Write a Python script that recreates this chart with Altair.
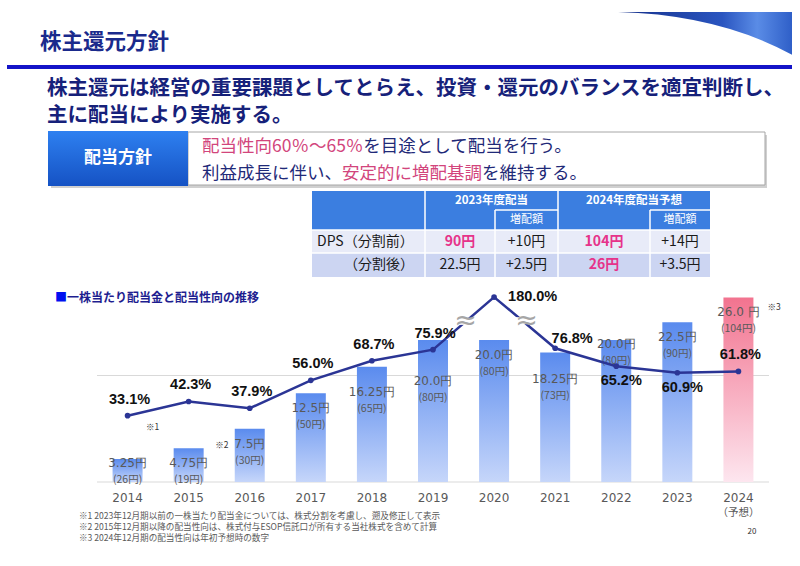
import altair as alt
import pandas as pd

# ---------------- data ----------------
years = ["2014", "2015", "2016", "2017", "2018", "2019", "2020", "2021", "2022", "2023", "2024"]
dps_split = [3.25, 4.75, 7.5, 12.5, 16.25, 20.0, 20.0, 18.25, 20.0, 22.5, 26.0]
dps_presplit = [26, 19, 30, 50, 65, 80, 80, 73, 80, 90, 104]
payout_ratio = [33.1, 42.3, 37.9, 56.0, 68.7, 75.9, 180.0, 76.8, 65.2, 60.9, 61.8]
forecast_year = "2024"

table_headers = ["2023年度配当", "2024年度配当予想"]
table_sub = "増配額"
row_labels = ["DPS（分割前）", "（分割後）"]
row_before = ["90円", "+10円", "104円", "+14円"]
row_after = ["22.5円", "+2.5円", "26円", "+3.5円"]

footnotes = [
    "※1 2023年12月期以前の一株当たり配当金については、株式分割を考慮し、遡及修正して表示",
    "※2 2015年12月期以降の配当性向は、株式付与ESOP信託口が所有する当社株式を含めて計算",
    "※3 2024年12月期の配当性向は年初予想時の数字",
]

# ---------------- layout constants ----------------
FONT = "Noto Sans CJK JP"
NUM_FONT = "DejaVu Sans"
LAB_FONT = "Liberation Sans"
NAVY = "#2B3595"
GRAY = "#595959"
PINK_T = "#D2457C"
TXT_NAVY = "#1F2A78"

X_RANGE = [97, 769]
P_IN, P_OUT = 0.509, 0.255
Y0, Y30 = 482, 269          # dividend axis: 0 yen -> 482px, 30 yen -> 269px
R0, R100 = 466.7, 312.5     # payout axis: 0% -> 466.7px, 100% -> 312.5px
BREAK_CAP = 110             # broken axis for the 180% year


def dps_px(v):
    return Y0 + (Y30 - Y0) * v / 30


def px_dps(p):
    return (p - Y0) * 30 / (Y30 - Y0)


def ratio_px(r):
    return R0 + (R100 - R0) * r / 100


step = (X_RANGE[1] - X_RANGE[0]) / (len(years) - P_IN + 2 * P_OUT)
bw = step * (1 - P_IN)


def band_center(i):
    return X_RANGE[0] + P_OUT * step + i * step + bw / 2


df = pd.DataFrame({"year": years, "dps": dps_split, "pre": dps_presplit, "ratio": payout_ratio})
df["disp"] = df["ratio"].clip(upper=BREAK_CAP)
df["dps_label"] = [
    (f"{v} 円" if y == forecast_year else f"{v}円") for y, v in zip(years, dps_split)
]
df["pre_label"] = [f"({p}円)" for p in dps_presplit]
df["ratio_label"] = [f"{r:.1f}%" for r in payout_ratio]

label_yen = []
for v, r in zip(df["dps"], df["disp"]):
    lp = dps_px(max(v - 2.1, 2.7))
    pt = ratio_px(r)
    d = lp - pt
    if 0 <= d < 24:
        lp = pt + 31
    elif -15 < d < 0:
        lp = pt - 22
    label_yen.append(px_dps(lp))
df["label_yen"] = label_yen

ONE = alt.Data(values=[{"k": 0}])


def text(s, x, y, size, color, weight="normal", align="left", font=FONT):
    return alt.Chart(ONE).mark_text(
        text=s, fontSize=size, color=color, fontWeight=weight, align=align,
        baseline="middle", font=font
    ).encode(x=alt.value(x), y=alt.value(y))


def rect(x1, x2, y1, y2, fill, stroke=None, sw=0):
    kw = dict(color=fill)
    if stroke:
        kw.update(stroke=stroke, strokeWidth=sw)
    return alt.Chart(ONE).mark_rect(**kw).encode(
        x=alt.value(x1), x2=alt.value(x2), y=alt.value(y1), y2=alt.value(y2))


def hline(x1, x2, y, color, w):
    return alt.Chart(ONE).mark_rule(color=color, strokeWidth=w).encode(
        x=alt.value(x1), x2=alt.value(x2), y=alt.value(y))


def vline(x, y1, y2, color, w):
    return alt.Chart(ONE).mark_rule(color=color, strokeWidth=w).encode(
        x=alt.value(x), y=alt.value(y1), y2=alt.value(y2))


def vgrad(top, bottom):
    return alt.Gradient(gradient="linear", stops=[
        alt.GradientStop(color=top, offset=0), alt.GradientStop(color=bottom, offset=1)],
        x1=0, x2=0, y1=0, y2=1)


def hgrad(stops):
    return alt.Gradient(gradient="linear", stops=[
        alt.GradientStop(color=c, offset=o) for o, c in stops],
        x1=0, x2=1, y1=0, y2=0)


layers = []

# ---- decorative swoosh (top right), a custom symbol path in a unit square ----
SW_SIDE = 174
layers.append(alt.Chart(ONE).mark_point(
    shape="M-1,-1 L1,-1 L1,-0.51 Q0.15,-0.97 -1,-1 Z", size=SW_SIDE * SW_SIDE,
    filled=True, fill=hgrad([(0, "#15308A"), (0.6, "#2A55C0"), (0.8, "#5A8CE6"), (1, "#2F5FC8")]),
    strokeWidth=0, opacity=1
).encode(x=alt.value(618 + SW_SIDE / 2), y=alt.value(12 + SW_SIDE / 2)))

# ---- title and headline ----
layers.append(text("株主還元方針", 40, 43, 21.5, "#1A2A8C", "bold"))
layers.append(hline(7, 792, 67, "#1414C8", 4))
layers.append(text("株主還元は経営の重要課題としてとらえ、投資・還元のバランスを適宜判断し、", 47, 89, 20.5, "#16217A", "bold"))
layers.append(text("主に配当により実施する。", 47, 116, 20.5, "#16217A", "bold"))

# ---- policy box ----
layers.append(rect(51, 767, 135, 188, "#D0D0D0"))
layers.append(rect(188, 765, 132, 185, "white", "#A6A6A6", 1))
layers.append(rect(48, 188, 131, 186, vgrad("#2E80F0", "#1552C4")))
layers.append(text("配当方針", 118, 158, 17, "white", "bold", "center"))


def seg_width(s, size):
    return sum(size if ord(c) > 0x2E80 else 0.555 * size for c in s)


FS = 17.5
x0 = 202
s1a, s1b = "配当性向60％～65％", "を目途として配当を行う。"
layers.append(text(s1a, x0, 147, FS, PINK_T))
layers.append(text(s1b, x0 + seg_width(s1a, FS), 147, FS, TXT_NAVY))
s2a, s2b, s2c = "利益成長に伴い、", "安定的に増配基調", "を維持する。"
layers.append(text(s2a, x0, 173.5, FS, TXT_NAVY))
layers.append(text(s2b, x0 + seg_width(s2a, FS), 173.5, FS, PINK_T))
layers.append(text(s2c, x0 + seg_width(s2a + s2b, FS), 173.5, FS, TXT_NAVY))

# ---- table ----
TX = [312, 425, 495, 558, 650, 710]
TY = [191, 210, 230, 253, 277]
HEAD = "#3B7EE0"
layers.append(rect(TX[0], TX[-1], TY[0], TY[2], HEAD))
layers.append(rect(TX[0], TX[-1], TY[2], TY[3], "#E8EBF8"))
layers.append(rect(TX[0], TX[-1], TY[3], TY[4], "#CCD5F2"))
for x in (TX[1], TX[3]):
    layers.append(vline(x, TY[0], TY[4], "white", 1.5))
for x in (TX[2], TX[4]):
    layers.append(vline(x, TY[1], TY[4], "white", 1.5))
layers.append(hline(TX[2], TX[3], TY[1], "white", 1.5))
layers.append(hline(TX[4], TX[5], TY[1], "white", 1.5))
layers.append(hline(TX[0], TX[5], TY[2], "white", 1.5))
layers.append(hline(TX[0], TX[5], TY[3], "white", 1.5))
layers.append(text(table_headers[0], (TX[1] + TX[3]) / 2, 200.5, 11.5, "white", "bold", "center"))
layers.append(text(table_headers[1], (TX[3] + TX[5]) / 2, 200.5, 11.5, "white", "bold", "center"))
layers.append(text(table_sub, (TX[2] + TX[3]) / 2, 220, 11, "white", "normal", "center"))
layers.append(text(table_sub, (TX[4] + TX[5]) / 2, 220, 11, "white", "normal", "center"))
layers.append(text(row_labels[0], 317, 241.5, 14, "#1A1A1A"))
layers.append(text(row_labels[1], 414, 265, 14, "#1A1A1A", "normal", "right"))
col_c = [(TX[i] + TX[i + 1]) / 2 for i in range(1, 5)]
for i, (a, b) in enumerate(zip(row_before, row_after)):
    pink_col = i in (0, 2)
    layers.append(text(a, col_c[i], 241.5, 14, "#E6338A" if pink_col else "#1A1A1A",
                       "bold" if pink_col else "normal", "center"))
    pink2 = i == 2
    layers.append(text(b, col_c[i], 265, 14, "#E6338A" if pink2 else "#1A1A1A",
                       "bold" if pink2 else "normal", "center"))

# ---- chart subtitle ----
layers.append(text("■", 55, 298, 12, "#0010F0", "bold"))
layers.append(text("一株当たり配当金と配当性向の推移", 67, 298, 12, "#1E1E90", "bold"))

# ---- chart ----
base = alt.Chart(df)
X = alt.X("year:N", scale=alt.Scale(domain=years, range=X_RANGE, paddingInner=P_IN,
                                      paddingOuter=P_OUT), axis=None)
DPS_SCALE = alt.Scale(domain=[0, 30], range=[Y0, Y30], nice=False, zero=True)
R_SCALE = alt.Scale(domain=[0, 100], range=[R0, R100], nice=False, zero=True)

grid = alt.Chart(pd.DataFrame({"v": [0, 15]})).mark_rule(color="#D9D9D9", strokeWidth=1).encode(
    y=alt.Y("v:Q", scale=DPS_SCALE, axis=None), x=alt.value(X_RANGE[0]), x2=alt.value(X_RANGE[1]))
layers.append(grid)

is_fc = alt.datum.year == forecast_year
layers.append(base.transform_filter(~is_fc).mark_bar(color=vgrad("#5A8BEE", "#C6D6FA")).encode(
    x=X, y=alt.Y("dps:Q", scale=DPS_SCALE, axis=None)))
layers.append(base.transform_filter(is_fc).mark_bar(color=vgrad("#F2738F", "#FDE6EF")).encode(
    x=X, y=alt.Y("dps:Q", scale=DPS_SCALE, axis=None)))

# bar labels
layers.append(base.mark_text(font=NUM_FONT, fontSize=12, color=GRAY, baseline="middle").encode(
    x=X, y=alt.Y("label_yen:Q", scale=DPS_SCALE, axis=None), text="dps_label:N"))
layers.append(base.mark_text(font=FONT, fontSize=10.5, color=GRAY, baseline="middle", dy=17).encode(
    x=X, y=alt.Y("label_yen:Q", scale=DPS_SCALE, axis=None), text="pre_label:N"))

# payout ratio line
layers.append(base.mark_line(color=NAVY, strokeWidth=2.5).encode(
    x=X, y=alt.Y("disp:Q", scale=R_SCALE, axis=None)))
layers.append(base.mark_circle(color=NAVY, size=32, opacity=1).encode(
    x=X, y=alt.Y("disp:Q", scale=R_SCALE, axis=None)))

# axis break marks on the two segments touching the capped year
cap_i = int(df["ratio"].idxmax())
for a, b in ((cap_i - 1, cap_i), (cap_i, cap_i + 1)):
    mx = (band_center(a) + band_center(b)) / 2 + 2
    my = (ratio_px(df["disp"][a]) + ratio_px(df["disp"][b])) / 2 - 2
    layers.append(rect(mx - 11, mx + 11, my - 3.5, my + 3.5, "white"))
    layers.append(text("≈", mx, my, 27, "#A6A6A6", "normal", "center", NUM_FONT))

# payout ratio labels
above_years = [y for y in years if y not in ("2020", "2021", "2022", "2023")]
below_years = ["2022", "2023"]
RL = dict(font=LAB_FONT, fontSize=14.5, fontWeight="bold", color="#111111", baseline="middle")
YR = alt.Y("disp:Q", scale=R_SCALE, axis=None)
layers.append(base.transform_filter(alt.FieldOneOfPredicate(field="year", oneOf=above_years))
              .mark_text(dy=-16, dx=2, **RL).encode(x=X, y=YR, text="ratio_label:N"))
layers.append(base.transform_filter(alt.FieldOneOfPredicate(field="year", oneOf=below_years))
              .mark_text(dy=15, dx=5, **RL).encode(x=X, y=YR, text="ratio_label:N"))
layers.append(base.transform_filter(alt.datum.year == "2020")
              .mark_text(dx=14, dy=0, align="left", **RL).encode(x=X, y=YR, text="ratio_label:N"))
layers.append(base.transform_filter(alt.datum.year == "2021")
              .mark_text(dx=17, dy=-9, **RL).encode(x=X, y=YR, text="ratio_label:N"))

# year labels
layers.append(base.mark_text(font=NUM_FONT, fontSize=12, color=GRAY, baseline="middle").encode(
    x=X, y=alt.value(498), text="year:N"))
layers.append(base.transform_filter(is_fc).mark_text(text="（予想）", font=FONT, fontSize=10.5,
                                                     color=GRAY, baseline="middle").encode(
    x=X, y=alt.value(513)))

# note markers
NOTE = dict(font=FONT, fontSize=8.5, color="#333333", baseline="middle")
layers.append(base.transform_filter(alt.datum.year == "2014").mark_text(text="※1", dx=25, **NOTE)
              .encode(x=X, y=alt.value(427)))
layers.append(base.transform_filter(alt.datum.year == "2016").mark_text(text="※2", dx=-28, **NOTE)
              .encode(x=X, y=alt.value(445)))
layers.append(base.transform_filter(is_fc).mark_text(text="※3", dx=29, dy=-5, align="left", **NOTE)
              .encode(x=X, y=alt.Y("label_yen:Q", scale=DPS_SCALE, axis=None)))

# footnotes and page number
for i, f in enumerate(footnotes):
    layers.append(text(f, 79, 516 + 11 * i, 8.6, GRAY))
layers.append(text("20", 752, 532, 8, "#333333", "normal", "center"))

chart = alt.layer(*layers).resolve_scale(y="independent").properties(
    width=800, height=566, autosize=alt.AutoSizeParams(type="none"), padding=0,
    background="white"
).configure_view(strokeWidth=0)

chart.save("out.html", embed_options={"renderer": "svg", "actions": False})
